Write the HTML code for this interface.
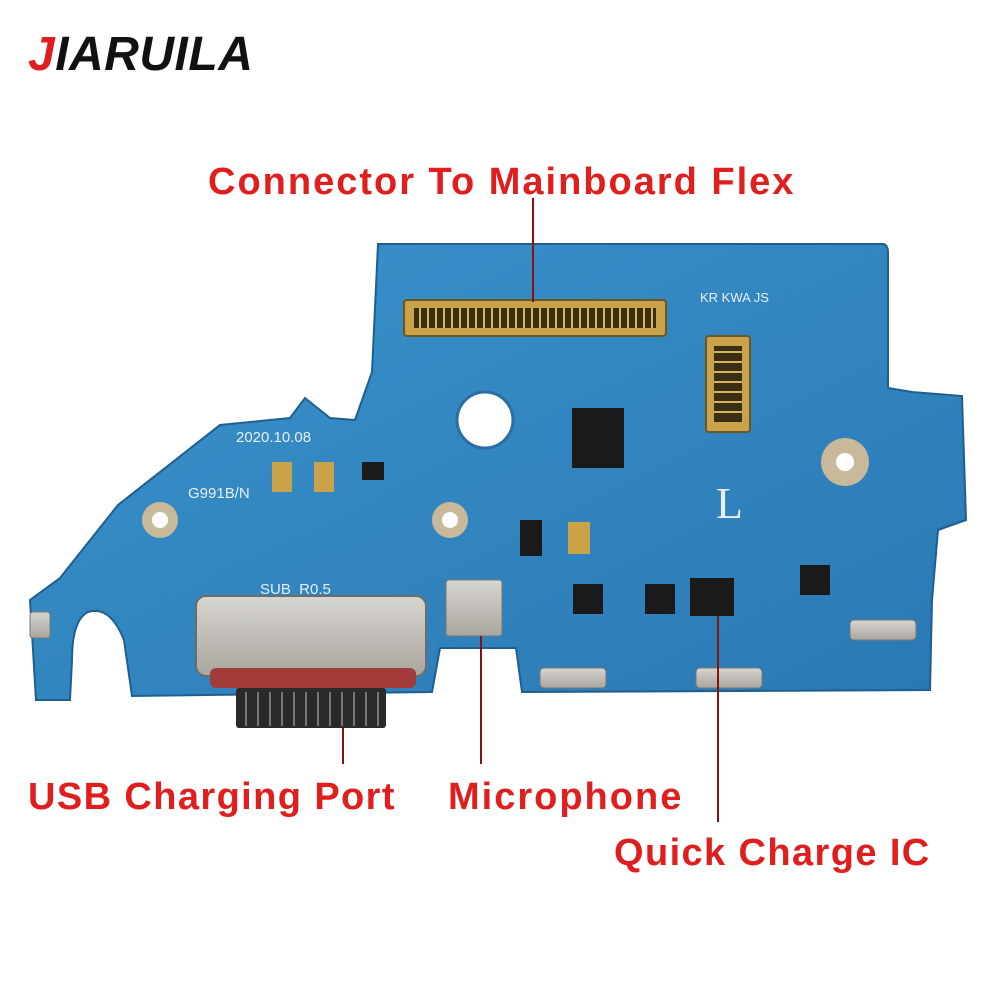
<!DOCTYPE html>
<html><head><meta charset="utf-8"><style>
html,body{margin:0;padding:0;background:#fff;}
svg{display:block}
</style></head><body>
<svg width="1000" height="1000" viewBox="0 0 1000 1000" xmlns="http://www.w3.org/2000/svg">
<defs>
<linearGradient id="pcb" x1="0" y1="0" x2="1" y2="1">
<stop offset="0" stop-color="#3a93cc"/><stop offset="1" stop-color="#2a78b3"/>
</linearGradient>
<linearGradient id="metal" x1="0" y1="0" x2="0" y2="1">
<stop offset="0" stop-color="#d7d5cf"/><stop offset="1" stop-color="#a9a6a0"/>
</linearGradient>
</defs>
<rect width="1000" height="1000" fill="#fff"/>
<text x="28" y="70" font-family="Liberation Sans, sans-serif" font-weight="bold" font-style="italic" font-size="48" letter-spacing="0.5" fill="#111"><tspan fill="#e01e1e">J</tspan>IARUILA</text>

<path d="M378,244 L884,244 Q888,246 888,252 L888,388 L912,392 L962,396 L966,520 L938,530 L932,600 L930,690 L522,692 L516,648 L440,648 L432,692 L132,696 L124,640 Q110,605 88,612 Q72,620 72,660 L70,700 L36,700 L30,600 L60,578 L118,505 L220,425 L290,418 L305,398 L330,418 L355,420 L372,372 Z" fill="url(#pcb)" stroke="#1f5f90" stroke-width="2"/>

<rect x="404" y="300" width="262" height="36" rx="3" fill="#caa24a" stroke="#6b5520" stroke-width="2"/>
<rect x="414" y="308" width="242" height="20" fill="#3a2e15"/>
<g stroke="#d9b25a" stroke-width="2">
<path d="M420,308v20M428,308v20M436,308v20M444,308v20M452,308v20M460,308v20M468,308v20M476,308v20M484,308v20M492,308v20M500,308v20M508,308v20M516,308v20M524,308v20M532,308v20M540,308v20M548,308v20M556,308v20M564,308v20M572,308v20M580,308v20M588,308v20M596,308v20M604,308v20M612,308v20M620,308v20M628,308v20M636,308v20M644,308v20M652,308v20"/>
</g>
<rect x="706" y="336" width="44" height="96" rx="3" fill="#caa24a" stroke="#6b5520" stroke-width="2"/>
<rect x="714" y="346" width="28" height="76" fill="#3a2e15"/>
<g stroke="#d9b25a" stroke-width="2"><path d="M714,352h28M714,362h28M714,372h28M714,382h28M714,392h28M714,402h28M714,412h28"/></g>

<circle cx="485" cy="420" r="28" fill="#fff" stroke="#2a6ea3" stroke-width="3"/>
<circle cx="845" cy="462" r="24" fill="#c9b99b"/><circle cx="845" cy="462" r="9" fill="#fff"/>
<circle cx="160" cy="520" r="18" fill="#c9b99b"/><circle cx="160" cy="520" r="8" fill="#fff"/>
<circle cx="450" cy="520" r="18" fill="#c9b99b"/><circle cx="450" cy="520" r="8" fill="#fff"/>

<rect x="572" y="408" width="52" height="60" fill="#1a1a1a"/>
<rect x="690" y="578" width="44" height="38" fill="#1a1a1a"/>
<rect x="645" y="584" width="30" height="30" fill="#1a1a1a"/>
<rect x="573" y="584" width="30" height="30" fill="#1a1a1a"/>
<rect x="800" y="565" width="30" height="30" fill="#1a1a1a"/>
<rect x="362" y="462" width="22" height="18" fill="#1a1a1a"/>
<rect x="520" y="520" width="22" height="36" fill="#1a1a1a"/>
<rect x="568" y="522" width="22" height="32" fill="#caa24a"/>
<rect x="272" y="462" width="20" height="30" fill="#caa24a"/>
<rect x="314" y="462" width="20" height="30" fill="#caa24a"/>
<text x="716" y="518" font-family="Liberation Serif, serif" font-size="44" fill="#e8eef5">L</text>
<text x="236" y="442" font-family="Liberation Sans, sans-serif" font-size="15" fill="#e8eef5">2020.10.08</text>
<text x="188" y="498" font-family="Liberation Sans, sans-serif" font-size="15" fill="#e8eef5">G991B/N</text>
<text x="260" y="594" font-family="Liberation Sans, sans-serif" font-size="15" fill="#e8eef5">SUB_R0.5</text>
<text x="700" y="302" font-family="Liberation Sans, sans-serif" font-size="13" fill="#e8eef5">KR KWA JS</text>

<rect x="446" y="580" width="56" height="56" rx="3" fill="url(#metal)" stroke="#777"/>
<rect x="540" y="668" width="66" height="20" rx="4" fill="url(#metal)" stroke="#777"/>
<rect x="696" y="668" width="66" height="20" rx="4" fill="url(#metal)" stroke="#777"/>
<rect x="850" y="620" width="66" height="20" rx="4" fill="url(#metal)" stroke="#777"/>
<rect x="30" y="612" width="20" height="26" rx="3" fill="url(#metal)" stroke="#777"/>

<rect x="196" y="596" width="230" height="80" rx="10" fill="url(#metal)" stroke="#6f6c66" stroke-width="2"/>
<rect x="210" y="668" width="206" height="20" rx="6" fill="#a33b3b"/>
<rect x="236" y="688" width="150" height="40" rx="3" fill="#2a2a2a"/>
<g stroke="#777" stroke-width="2"><path d="M246,692v34M258,692v34M270,692v34M282,692v34M294,692v34M306,692v34M318,692v34M330,692v34M342,692v34M354,692v34M366,692v34M378,692v34"/></g>

<g stroke="#8a1010" stroke-width="2">
<line x1="533" y1="198" x2="533" y2="302"/>
<line x1="343" y1="728" x2="343" y2="764"/>
<line x1="481" y1="636" x2="481" y2="764"/>
<line x1="718" y1="616" x2="718" y2="822"/>
</g>

<g font-family="Liberation Sans, sans-serif" font-weight="bold" font-size="38" fill="#e01e1e">
<text x="208" y="194" letter-spacing="2">Connector To Mainboard Flex</text>
<text x="28" y="809" letter-spacing="1.4">USB Charging Port</text>
<text x="448" y="809" letter-spacing="2">Microphone</text>
<text x="614" y="865" letter-spacing="1.4">Quick Charge IC</text>
</g>
</svg>
</body></html>
